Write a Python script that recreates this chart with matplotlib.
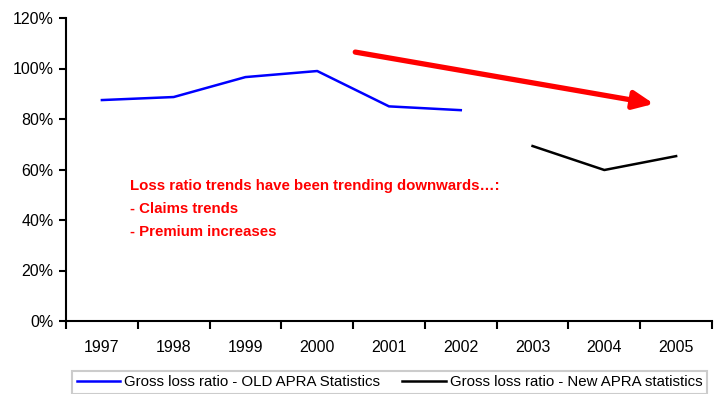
import matplotlib
matplotlib.use("Agg")
import matplotlib.pyplot as plt
from matplotlib.ticker import FuncFormatter, FixedLocator
from matplotlib.patches import FancyArrowPatch

plt.rcParams['font.family'] = ['Liberation Sans', 'DejaVu Sans']

years = ['1997', '1998', '1999', '2000', '2001', '2002', '2003', '2004', '2005']
old_years = ['1997', '1998', '1999', '2000', '2001', '2002']
old_values = [87.5, 88.7, 96.6, 99.0, 85.0, 83.5]
new_years = ['2003', '2004', '2005']
new_values = [69.3, 59.8, 65.3]
old_label = 'Gross loss ratio - OLD APRA Statistics'
new_label = 'Gross loss ratio - New APRA statistics'
note_lines = ['Loss ratio trends have been trending downwards\u2026:',
              '- Claims trends',
              '- Premium increases']
y_ticks = [0, 20, 40, 60, 80, 100, 120]

fig = plt.figure(figsize=(7.15, 3.94), dpi=100)
ax = fig.add_axes([66/715, 1-321/394, 646/715, 303/394])

idx = {y: i for i, y in enumerate(years)}
ax.plot([idx[y] for y in old_years], old_values, color='#0000FF', lw=1.8, label=old_label)
ax.plot([idx[y] for y in new_years], new_values, color='black', lw=1.8, label=new_label)

ax.set_xlim(-0.5, len(years) - 0.5)
ax.set_ylim(0, 120)
ax.set_xticks(range(len(years)))
ax.set_xticklabels(years, fontsize=11.5)
ax.tick_params(axis='x', which='major', length=0, pad=14)
ax.xaxis.set_minor_locator(FixedLocator([i - 0.5 for i in range(len(years) + 1)]))
ax.tick_params(axis='x', which='minor', length=6, width=1.5, direction='out')
ax.set_yticks(y_ticks)
ax.yaxis.set_major_formatter(FuncFormatter(lambda v, p: f'{int(v)}%'))
ax.tick_params(axis='y', length=5, width=1.5, labelsize=11.5, pad=4)
for s in ['top', 'right']:
    ax.spines[s].set_visible(False)
for s in ['left', 'bottom']:
    ax.spines[s].set_linewidth(1.5)

arrow = FancyArrowPatch((3.53, 106.5), (7.69, 86.0),
                        arrowstyle='-|>,head_length=8,head_width=3.6',
                        mutation_scale=1.5, color='#FF0000', lw=3.8,
                        shrinkA=0, shrinkB=0)
ax.add_patch(arrow)

y0 = 53.5
for i, t in enumerate(note_lines):
    ax.text(0.39, y0 - i * 9.1, t, color='#FF0000', fontsize=10.8, fontweight='bold',
            va='center', ha='left')

leg = fig.legend(loc='lower left', bbox_to_anchor=(72/715, 0.0), ncol=2, frameon=True,
                 fontsize=10.8, handlelength=2.9, handletextpad=0.25, columnspacing=1.5,
                 borderpad=0.3, fancybox=False, borderaxespad=0)
leg.get_frame().set_edgecolor('#C0C0C0')
leg.get_frame().set_linewidth(1.5)

fig.savefig('out.png', dpi=100)
